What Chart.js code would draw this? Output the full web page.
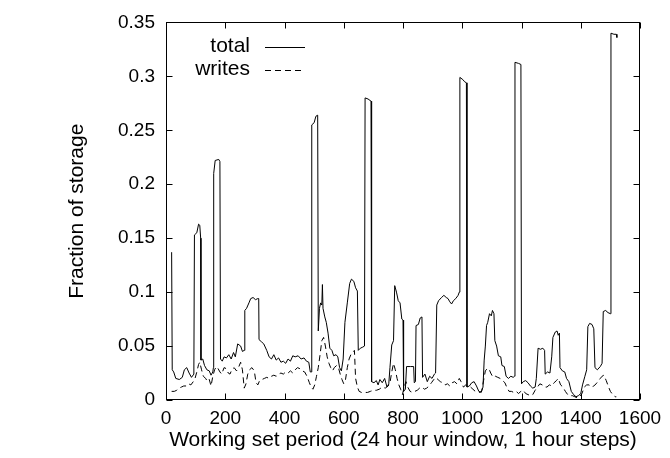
<!DOCTYPE html>
<html>
<head>
<meta charset="utf-8">
<script src="https://cdn.jsdelivr.net/npm/chart.js@4.4.1/dist/chart.umd.min.js"></script>
<style>
  html, body { margin: 0; padding: 0; background: #fff; }
  #wrap { width: 670px; height: 458px; }
</style>
</head>
<body>
<div id="wrap"><canvas id="ws-chart" width="670" height="458"></canvas></div>
<script>
// Working set period (hours) and fraction of storage
const totalX = [19, 21, 26, 33, 45, 55, 62, 70, 78, 86, 94, 96, 104, 110, 114, 117, 118, 124, 130, 138,
  146, 152, 158, 160, 161, 166, 178, 182, 184, 190, 196, 204, 212, 220, 228, 234, 242, 252, 258, 264,
  266, 272, 280, 286, 294, 302, 310, 313, 314, 322, 330, 340, 348, 356, 364, 372, 380, 388, 396, 404,
  412, 420, 428, 436, 446, 456, 466, 474, 482, 487, 490, 492, 500, 506, 512, 514, 518, 522, 526, 528,
  530, 536, 541, 547, 553, 560, 566, 574, 580, 586, 592, 598, 604, 612, 620, 626, 634, 640, 646, 649,
  656, 664, 670, 672, 682, 692, 694, 702, 710, 716, 722, 730, 738, 746, 752, 756, 762, 768, 772, 778,
  784, 790, 796, 800, 802, 808, 812, 826, 836, 838, 842, 844, 852, 858, 864, 866, 874, 882, 890, 898,
  906, 910, 914, 920, 930, 938, 946, 952, 958, 964, 970, 978, 986, 990, 992, 1002, 1008, 1014, 1016, 1024,
  1032, 1040, 1048, 1056, 1064, 1070, 1074, 1078, 1082, 1086, 1092, 1098, 1102, 1107, 1110, 1116, 1122, 1130, 1134, 1142,
  1148, 1156, 1164, 1172, 1176, 1178, 1190, 1198, 1200, 1206, 1214, 1222, 1230, 1238, 1246, 1250, 1256, 1264, 1272, 1278,
  1280, 1288, 1296, 1302, 1306, 1314, 1320, 1324, 1328, 1330, 1338, 1346, 1352, 1360, 1368, 1376, 1384, 1392, 1400, 1406,
  1414, 1420, 1424, 1430, 1438, 1444, 1448, 1456, 1466, 1472, 1476, 1484, 1492, 1500, 1502, 1512, 1520, 1522];
const totalY = [0.137, 0.028, 0.026, 0.020, 0.019, 0.021, 0.028, 0.030, 0.025, 0.021, 0.024, 0.153, 0.155, 0.163, 0.162, 0.150, 0.037, 0.038, 0.032, 0.028,
  0.027, 0.023, 0.026, 0.030, 0.210, 0.222, 0.223, 0.221, 0.038, 0.036, 0.040, 0.039, 0.042, 0.038, 0.044, 0.040, 0.052, 0.050, 0.045, 0.046,
  0.083, 0.085, 0.090, 0.094, 0.095, 0.093, 0.094, 0.094, 0.056, 0.054, 0.052, 0.046, 0.040, 0.038, 0.042, 0.037, 0.039, 0.035, 0.036, 0.034,
  0.038, 0.036, 0.041, 0.040, 0.041, 0.038, 0.039, 0.036, 0.035, 0.026, 0.026, 0.255, 0.257, 0.263, 0.264, 0.064, 0.085, 0.090, 0.088, 0.107,
  0.085, 0.077, 0.072, 0.062, 0.048, 0.046, 0.041, 0.042, 0.040, 0.030, 0.027, 0.038, 0.072, 0.090, 0.108, 0.112, 0.110, 0.104, 0.101, 0.046,
  0.048, 0.049, 0.050, 0.280, 0.279, 0.277, 0.017, 0.016, 0.018, 0.014, 0.019, 0.016, 0.020, 0.012, 0.015, 0.030, 0.051, 0.055, 0.106, 0.100,
  0.092, 0.090, 0.075, 0.074, 0.008, 0.010, 0.031, 0.031, 0.031, 0.016, 0.017, 0.069, 0.070, 0.076, 0.077, 0.021, 0.024, 0.017, 0.022, 0.020,
  0.024, 0.025, 0.088, 0.092, 0.095, 0.097, 0.095, 0.094, 0.091, 0.089, 0.092, 0.094, 0.097, 0.100, 0.299, 0.297, 0.295, 0.294, 0.012, 0.013,
  0.016, 0.017, 0.013, 0.008, 0.007, 0.012, 0.037, 0.050, 0.069, 0.072, 0.080, 0.078, 0.083, 0.080, 0.055, 0.050, 0.041, 0.040, 0.032, 0.031,
  0.022, 0.020, 0.022, 0.021, 0.022, 0.313, 0.312, 0.311, 0.015, 0.017, 0.018, 0.016, 0.013, 0.011, 0.012, 0.020, 0.048, 0.047, 0.048, 0.046,
  0.024, 0.026, 0.025, 0.040, 0.058, 0.063, 0.064, 0.060, 0.062, 0.030, 0.027, 0.026, 0.020, 0.017, 0.008, 0.005, 0.003, 0.004, 0.006, 0.014,
  0.022, 0.028, 0.068, 0.071, 0.070, 0.066, 0.030, 0.028, 0.031, 0.034, 0.082, 0.083, 0.081, 0.080, 0.340, 0.339, 0.339, 0.336];

const writesX = [19, 28, 36, 44, 52, 60, 68, 76, 84, 92, 98, 104, 110, 114, 120, 126, 134, 140, 146, 152,
  158, 164, 170, 176, 182, 188, 196, 204, 210, 216, 222, 230, 238, 246, 252, 258, 264, 270, 276, 282,
  290, 298, 304, 310, 316, 324, 332, 340, 348, 356, 364, 372, 380, 388, 396, 404, 412, 420, 428, 436,
  444, 452, 460, 468, 476, 484, 490, 496, 502, 508, 514, 520, 526, 532, 538, 544, 550, 556, 562, 568,
  576, 582, 588, 594, 600, 606, 612, 618, 624, 630, 636, 640, 646, 652, 660, 670, 680, 690, 700, 710,
  720, 730, 740, 750, 756, 762, 768, 774, 780, 786, 792, 798, 804, 810, 816, 824, 832, 840, 848, 856,
  864, 872, 880, 888, 896, 904, 910, 918, 926, 934, 942, 950, 958, 966, 974, 982, 990, 996, 1004, 1012,
  1020, 1028, 1036, 1044, 1052, 1060, 1066, 1072, 1078, 1084, 1090, 1096, 1104, 1112, 1120, 1128, 1136, 1144, 1150, 1158,
  1166, 1174, 1182, 1190, 1198, 1206, 1214, 1222, 1230, 1238, 1246, 1254, 1262, 1270, 1278, 1286, 1294, 1302, 1310, 1318,
  1324, 1332, 1340, 1348, 1356, 1364, 1372, 1380, 1388, 1396, 1404, 1412, 1420, 1428, 1436, 1444, 1452, 1460, 1466, 1472,
  1478, 1486, 1494, 1500, 1508, 1516, 1520];
const writesY = [0.008, 0.008, 0.009, 0.011, 0.012, 0.013, 0.013, 0.015, 0.014, 0.017, 0.020, 0.026, 0.033, 0.035, 0.028, 0.022, 0.020, 0.017, 0.019, 0.013,
  0.022, 0.028, 0.031, 0.029, 0.026, 0.024, 0.030, 0.029, 0.025, 0.024, 0.028, 0.030, 0.027, 0.031, 0.035, 0.028, 0.011, 0.015, 0.024, 0.028,
  0.030, 0.027, 0.016, 0.014, 0.018, 0.019, 0.020, 0.021, 0.020, 0.022, 0.023, 0.022, 0.024, 0.025, 0.024, 0.026, 0.025, 0.027, 0.025, 0.028,
  0.030, 0.029, 0.027, 0.026, 0.022, 0.016, 0.012, 0.010, 0.014, 0.022, 0.030, 0.042, 0.055, 0.058, 0.050, 0.040, 0.034, 0.030, 0.027, 0.030,
  0.032, 0.030, 0.024, 0.019, 0.015, 0.019, 0.030, 0.038, 0.042, 0.044, 0.046, 0.020, 0.012, 0.008, 0.007, 0.007, 0.007, 0.008, 0.009, 0.009,
  0.010, 0.012, 0.011, 0.013, 0.016, 0.026, 0.034, 0.028, 0.020, 0.014, 0.010, 0.005, 0.012, 0.017, 0.012, 0.008, 0.007, 0.008, 0.009, 0.011,
  0.012, 0.010, 0.011, 0.013, 0.016, 0.019, 0.021, 0.019, 0.017, 0.016, 0.014, 0.015, 0.013, 0.016, 0.017, 0.015, 0.020, 0.017, 0.012, 0.014,
  0.013, 0.012, 0.010, 0.008, 0.008, 0.007, 0.009, 0.018, 0.027, 0.029, 0.029, 0.025, 0.021, 0.022, 0.021, 0.020, 0.018, 0.016, 0.012, 0.008,
  0.008, 0.007, 0.008, 0.006, 0.008, 0.009, 0.006, 0.005, 0.004, 0.005, 0.009, 0.012, 0.015, 0.014, 0.012, 0.012, 0.014, 0.013, 0.016, 0.018,
  0.020, 0.014, 0.012, 0.008, 0.005, 0.004, 0.004, 0.003, 0.002, 0.003, 0.006, 0.012, 0.014, 0.014, 0.012, 0.013, 0.015, 0.018, 0.020, 0.022,
  0.023, 0.018, 0.012, 0.008, 0.005, 0.003, 0.003];

// axis ticks
const xTickLabels = ['0', '200', '400', '600', '800', '1000', '1200', '1400', '1600'];
const yTickLabels = ['0', '0.05', '0.1', '0.15', '0.2', '0.25', '0.3', '0.35'];

const toPoints = (xs, ys) => xs.map((x, i) => ({ x: x, y: ys[i] }));

Chart.defaults.font.family = '"Liberation Sans", Arial, Helvetica, sans-serif';
Chart.defaults.font.size = 21;
Chart.defaults.color = '#000';

// gnuplot style frame, inward ticks and key
const gnuplotFrame = {
  id: 'gnuplotFrame',
  afterDraw(chart) {
    const { ctx, chartArea: a, scales } = chart;
    const L = Math.round(a.left) + 0.5, R = Math.round(a.right) - 0.5;
    const T = Math.round(a.top) + 0.5, B = Math.round(a.bottom) - 0.5;
    const tl = 6;
    ctx.save();
    ctx.strokeStyle = '#000';
    ctx.lineWidth = 1;
    ctx.strokeRect(L, T, R - L, B - T);
    ctx.beginPath();
    scales.x.ticks.forEach((t) => {
      const px = Math.round(scales.x.getPixelForValue(t.value)) + 0.5;
      ctx.moveTo(px, B); ctx.lineTo(px, B - tl);
      ctx.moveTo(px, T); ctx.lineTo(px, T + tl);
    });
    scales.y.ticks.forEach((t) => {
      const py = Math.round(scales.y.getPixelForValue(t.value)) + 0.5;
      ctx.moveTo(L, py); ctx.lineTo(L + tl, py);
      ctx.moveTo(R, py); ctx.lineTo(R - tl, py);
    });
    ctx.stroke();

    // key, top left
    ctx.font = '21px "Liberation Sans", Arial, sans-serif';
    ctx.textAlign = 'right';
    ctx.textBaseline = 'alphabetic';
    chart.data.datasets.forEach((ds, i) => {
      const base = 52 + i * 23;
      ctx.fillStyle = '#000';
      ctx.fillText(ds.label, 250, base);
      ctx.setLineDash(ds.borderDash || []);
      ctx.beginPath();
      ctx.moveTo(265, base - 4.5);
      ctx.lineTo(305, base - 4.5);
      ctx.stroke();
    });
    ctx.restore();
  }
};

new Chart(document.getElementById('ws-chart'), {
  type: 'line',
  data: {
    datasets: [
      {
        label: 'total',
        data: toPoints(totalX, totalY),
        borderColor: '#000',
        borderWidth: 1,
        pointRadius: 0,
        tension: 0,
        fill: false
      },
      {
        label: 'writes',
        data: toPoints(writesX, writesY),
        borderColor: '#000',
        borderWidth: 1,
        borderDash: [6, 4],
        pointRadius: 0,
        tension: 0,
        fill: false
      }
    ]
  },
  options: {
    responsive: false,
    animation: false,
    devicePixelRatio: 1,
    layout: { padding: { top: 20, right: 30, left: 0, bottom: 0 } },
    plugins: { legend: { display: false }, tooltip: { enabled: false } },
    scales: {
      x: {
        type: 'linear',
        min: 0,
        max: 1600,
        border: { display: false },
        grid: { display: false, drawTicks: false },
        ticks: {
          stepSize: 200,
          padding: 7,
          maxRotation: 0,
          font: { size: 19 },
          callback: (v, i) => xTickLabels[i]
        },
        title: {
          display: true,
          text: 'Working set period (24 hour window, 1 hour steps)',
          padding: { top: 0, bottom: 5 }
        },
        afterFit: (scale) => { scale.height = 58; }
      },
      y: {
        min: 0,
        max: 0.35,
        border: { display: false },
        grid: { display: false, drawTicks: false },
        ticks: {
          stepSize: 0.05,
          padding: 11,
          font: { size: 19 },
          callback: (v, i) => yTickLabels[i]
        },
        title: {
          display: true,
          text: 'Fraction of storage',
          padding: { top: 65, bottom: 0 }
        },
        afterFit: (scale) => { scale.width = 166; }
      }
    }
  },
  plugins: [gnuplotFrame]
});
</script>
</body>
</html>
